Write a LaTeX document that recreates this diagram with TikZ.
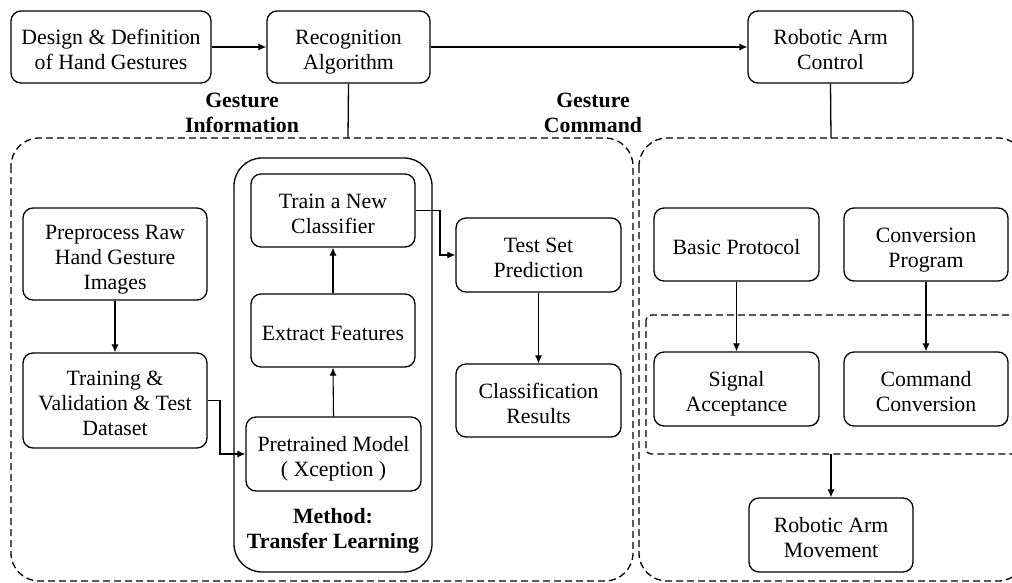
\documentclass[tikz,border=0pt]{standalone}
\usepackage{fontspec}
\setmainfont{Liberation Serif}
\usetikzlibrary{arrows.meta,positioning}
\newcommand{\mystrut}{\rule{0pt}{28pt}}
\tikzset{
  box/.style={draw, line width=1.3pt, rounded corners=10pt, align=center, inner sep=0pt,
    font=\fontsize{21.8}{25}\selectfont, execute at end node=\strut},
  lbl/.style={align=center, font=\fontsize{21.8}{25}\selectfont\bfseries},
  conn/.style={line width=1.3pt},
  arr/.style={line width=1.1pt, -{Latex[length=8pt,width=7pt]}},
  dbox/.style={draw, line width=1.3pt, dash pattern=on 7pt off 4pt},
}
\begin{document}
\begin{tikzpicture}[x=1pt,y=-1pt]
\useasboundingbox (0,0) rectangle (1012,582);
\clip (0,0) rectangle (1012,582);
\fill[white] (0,0) rectangle (1012,582);
% outer dashed groups
\draw[dbox, rounded corners=28pt] (11,138) rectangle (633,581);
\draw[dbox, rounded corners=28pt] (639,138) rectangle (1026,581);
\draw[dbox, rounded corners=5pt] (646,315) rectangle (1030,454);
\coordinate (lt) at (348,138);
\coordinate (rt) at (831,138);
\coordinate (ib) at (831,454);
% top row
\node[box, minimum width=200pt, minimum height=72pt] (design) at (111,47) {\mystrut Design \& Definition\\of Hand Gestures};
\node[box, minimum width=163pt, minimum height=72pt] (recog) at (348.5,47) {\mystrut Recognition\\Algorithm};
\node[box, minimum width=165pt, minimum height=72pt] (rac) at (830.5,47) {\mystrut Robotic Arm\\Control};
\node[lbl] (gi) at (242,113) {Gesture\\Information};
\node[lbl] (gc) at (593,113) {Gesture\\Command};
% transfer learning container
\node[draw, line width=1.3pt, rounded corners=28pt, minimum width=198pt, minimum height=414pt] (tl) at (333,365) {};
\node[lbl] (method) at (333,531) {Method:\\Transfer Learning};
% left group
\node[box, minimum width=184pt, minimum height=92pt] (prep) at (115,254) {\mystrut Preprocess Raw\\Hand Gesture\\Images};
\node[box, minimum width=184pt, minimum height=95pt] (train) at (115,400.5) {\mystrut Training \&\\Validation \& Test\\Dataset};
\node[box, minimum width=164pt, minimum height=73pt] (tnc) at (333,210.5) {\mystrut Train a New\\Classifier};
\node[box, minimum width=164pt, minimum height=73pt] (ef) at (333,330.5) {\mystrut Extract Features};
\node[box, minimum width=175pt, minimum height=74pt] (pm) at (333.5,454) {\mystrut Pretrained Model\\( Xception )};
\node[box, minimum width=165pt, minimum height=74pt] (tsp) at (538.5,255) {\mystrut Test Set\\Prediction};
\node[box, minimum width=165pt, minimum height=73pt] (cr) at (538.5,400.5) {\mystrut Classification\\Results};
% right group
\node[box, minimum width=165pt, minimum height=73pt] (bp) at (736.5,244.5) {\mystrut Basic Protocol};
\node[box, minimum width=164pt, minimum height=73pt] (cp) at (926,244.5) {\mystrut Conversion\\Program};
\node[box, minimum width=165pt, minimum height=74pt] (sa) at (736.5,389) {\mystrut Signal\\Acceptance};
\node[box, minimum width=164pt, minimum height=74pt] (cc) at (926,389) {\mystrut Command\\Conversion};
\node[box, minimum width=164pt, minimum height=74pt] (ram) at (831,535) {\mystrut Robotic Arm\\Movement};
% connectors
\draw[arr] (design.east) -- (recog.west);
\draw[arr] (recog.east) -- (rac.west);
\draw[conn] (recog.south) -- (lt);
\draw[conn] (rac.south) -- (rt);
\draw[arr] (prep.south) -- (train.north);
\draw[arr] (train.east) -- (220,400.5) |- (pm.west);
\draw[arr] (pm.north) -- (ef.south);
\draw[arr] (ef.north) -- (tnc.south);
\draw[arr] (tnc.east) -- (440,210.5) |- (tsp.west);
\draw[arr] (tsp.south) -- (cr.north);
\draw[arr] (bp.south) -- (sa.north);
\draw[arr] (cp.south) -- (cc.north);
\draw[arr] (ib) -- (ram.north);
\end{tikzpicture}
\end{document}
